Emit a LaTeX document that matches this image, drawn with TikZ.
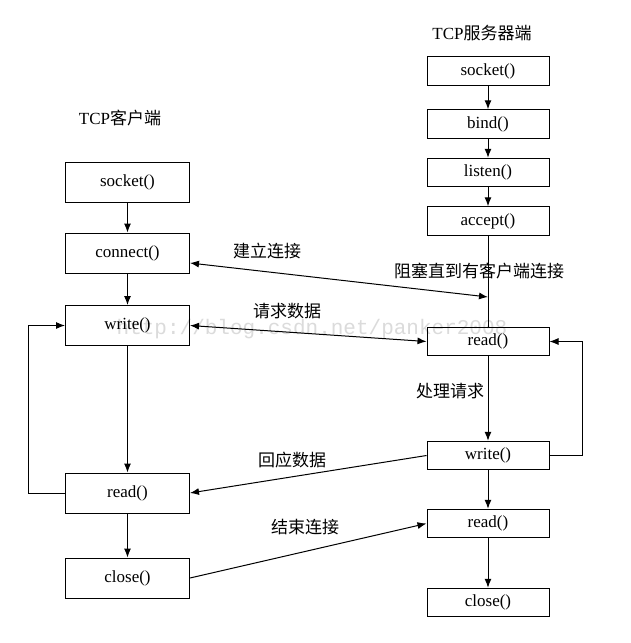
\documentclass[tikz,border=0pt]{standalone}
\usepackage{fontspec}
\setmainfont{Liberation Serif}
\newfontfamily\cjk{Noto Sans CJK SC}
\newfontfamily\wmfont{Liberation Mono}
\usetikzlibrary{arrows.meta}
\begin{document}
\begin{tikzpicture}[x=1pt,y=-1pt,
  fbox/.style={draw=black,line width=1pt,rectangle,inner sep=0pt,font=\fontsize{17}{20}\selectfont},
  cbox/.style={fbox,minimum width=124pt,minimum height=40pt},
  sbox/.style={fbox,minimum width=122pt,minimum height=28.5pt},
  lab/.style={font=\fontsize{17}{20}\selectfont\cjk,inner sep=0pt},
  ttl/.style={font=\fontsize{17}{20}\selectfont,inner sep=0pt},
  conn/.style={line width=1pt,-{Latex[length=9pt,width=7pt]}},
  biconn/.style={line width=1pt,{Latex[length=9pt,width=7pt]}-{Latex[length=9pt,width=7pt]}},
  plain/.style={line width=1pt}]
\useasboundingbox (0,0) rectangle (631,643);
\fill[white] (0,0) rectangle (631,643);
% watermark
\node[font=\fontsize{21}{24}\selectfont\wmfont,text=gray!28,inner sep=0pt] (wm) at (312,329) {http://blog.csdn.net/panker2008};
% titles
\node[ttl] (tclient) at (120,118) {TCP{\cjk 客户端}};
\node[ttl] (tserver) at (482,33) {TCP{\cjk 服务器端}};
% client column
\node[cbox] (csock) at (127.5,182) {socket()};
\node[cbox] (cconn) at (127.5,253) {connect()};
\node[cbox] (cwrite) at (127.5,325.5) {write()};
\node[cbox] (cread) at (127.5,493) {read()};
\node[cbox] (cclose) at (127.5,578) {close()};
% server column
\node[sbox] (ssock) at (488,71) {socket()};
\node[sbox] (sbind) at (488,124) {bind()};
\node[sbox] (slisten) at (488,172.5) {listen()};
\node[sbox] (saccept) at (488,221) {accept()};
\node[sbox] (sread) at (488,341.5) {read()};
\node[sbox] (swrite) at (488,455.5) {write()};
\node[sbox] (sread2) at (488,523.5) {read()};
\node[sbox] (sclose) at (488,602.5) {close()};
\coordinate (blockpt) at (488,297);
% client flow
\draw[conn] (csock) -- (cconn);
\draw[conn] (cconn) -- (cwrite);
\draw[conn] (cwrite) -- (cread);
\draw[conn] (cread) -- (cclose);
\draw[conn] (cread.west) -- (28,493) |- (cwrite.west);
% server flow
\draw[conn] (ssock) -- (sbind);
\draw[conn] (sbind) -- (slisten);
\draw[conn] (slisten) -- (saccept);
\draw[plain] (saccept) -- (sread);
\draw[conn] (sread) -- (swrite);
\draw[conn] (swrite) -- (sread2);
\draw[conn] (sread2) -- (sclose);
\draw[conn] (swrite.east) -- (582,455.5) |- (sread.east);
% cross connections
\draw[biconn] (cconn.east |- 0,263) -- (blockpt);
\draw[biconn] (cwrite.east) -- (sread.west);
\draw[conn] (swrite.west) -- (cread.east);
\draw[conn] (cclose.east) -- (sread2.west);
% labels
\node[lab] (l1) at (267,251) {建立连接};
\node[lab] (l2) at (479,271) {阻塞直到有客户端连接};
\node[lab] (l3) at (287,311) {请求数据};
\node[lab] (l4) at (450,391) {处理请求};
\node[lab] (l5) at (292,460) {回应数据};
\node[lab] (l6) at (305,527) {结束连接};
\end{tikzpicture}
\end{document}
